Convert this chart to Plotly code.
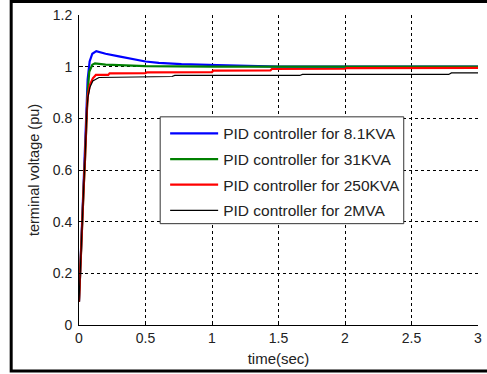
import plotly.graph_objects as go

# ---- data ----
t_blue = [0, 0.007, 0.015, 0.025, 0.035, 0.045, 0.055, 0.065, 0.08, 0.1, 0.13, 0.2, 0.3, 0.41, 0.5, 0.6, 0.77, 1.04, 1.5, 3.0]
v_blue = [0.09, 0.19, 0.3, 0.42, 0.53, 0.7, 0.86, 0.95, 1.02, 1.05, 1.06, 1.05, 1.04, 1.03, 1.02, 1.015, 1.01, 1.006, 1.0, 1.0]

t_green = [0, 0.007, 0.015, 0.025, 0.035, 0.045, 0.055, 0.065, 0.077, 0.1, 0.12, 0.2, 0.5, 1.0, 3.0]
v_green = [0.09, 0.19, 0.3, 0.42, 0.53, 0.64, 0.77, 0.9, 0.98, 1.007, 1.013, 1.008, 1.002, 1.0, 1.0]

t_red = [0, 0.007, 0.015, 0.025, 0.035, 0.045, 0.052, 0.06, 0.067, 0.082, 0.104, 0.127, 0.22, 0.23,
         0.5, 0.51, 1.0, 1.01, 1.44, 1.45, 2.0, 2.01, 3.0]
v_red = [0.09, 0.19, 0.3, 0.42, 0.53, 0.64, 0.75, 0.84, 0.89, 0.93, 0.955, 0.968, 0.968, 0.974,
         0.975, 0.978, 0.979, 0.985, 0.986, 0.991, 0.992, 0.994, 0.995]

t_black = [0, 0.007, 0.015, 0.025, 0.035, 0.045, 0.052, 0.06, 0.067, 0.082, 0.104, 0.15, 0.7, 0.72, 1.66, 1.68, 2.78, 2.8, 3.0]
v_black = [0.09, 0.19, 0.3, 0.42, 0.53, 0.64, 0.75, 0.84, 0.88, 0.92, 0.945, 0.958, 0.962, 0.966, 0.966, 0.970, 0.970, 0.976, 0.976]

names = ["PID controller for 8.1KVA", "PID controller for 31KVA",
         "PID controller for 250KVA", "PID controller for 2MVA"]
x_ticks = [0, 0.5, 1, 1.5, 2, 2.5, 3]
x_tick_text = ["0", "0.5", "1", "1.5", "2", "2.5", "3"]
y_ticks = [0, 0.2, 0.4, 0.6, 0.8, 1, 1.2]
y_tick_text = ["0", "0.2", "0.4", "0.6", "0.8", "1", "1.2"]

FONT = "Liberation Sans, Arial, sans-serif"

fig = go.Figure()
series = [(t_blue, v_blue, "#0000ff", 2.2),
          (t_green, v_green, "#008000", 2.2),
          (t_red, v_red, "#ff0000", 2.2),
          (t_black, v_black, "#000000", 1.2)]
for i, (tx, vy, col, w) in enumerate(series):
    fig.add_trace(go.Scatter(x=tx, y=vy, mode="lines", name=names[i],
                             legendgroup="g%d" % i,
                             line=dict(color=col, width=w)))

W, H = 487, 374
L, R, T, B = 79, 5, 15, 48.5
pw, ph = W - L - R, H - T - B

def px2paper_x(px):
    return (px - L) / pw

def px2paper_y(py):
    return (H - B - py) / ph

shapes = [
    # legend box
    dict(type="rect", xref="paper", yref="paper",
         x0=px2paper_x(161), x1=px2paper_x(407),
         y0=px2paper_y(224), y1=px2paper_y(117),
         line=dict(color="#333333", width=1), fillcolor="white", layer="above"),
    # outer frame
    dict(type="rect", xref="paper", yref="paper",
         x0=px2paper_x(10.5), x1=px2paper_x(510),
         y0=px2paper_y(371.5), y1=px2paper_y(1.5),
         line=dict(color="black", width=3), fillcolor="rgba(0,0,0,0)", layer="above"),
]

grid = dict(showgrid=True, gridcolor="black", gridwidth=1, griddash="3px,3px")

fig.update_layout(
    width=W, height=H,
    margin=dict(l=L, r=R, t=T, b=B),
    paper_bgcolor="white", plot_bgcolor="white",
    font=dict(family=FONT, size=13, color="black"),
    showlegend=True,
    legend=dict(x=px2paper_x(166), y=px2paper_y(117), xanchor="left", yanchor="top",
                bgcolor="rgba(0,0,0,0)", borderwidth=0, itemwidth=48,
                font=dict(family=FONT, size=15.5, color="#222222"),
                traceorder="grouped", tracegroupgap=2.5),
    xaxis=dict(range=[0, 3], tickvals=x_ticks, ticktext=x_tick_text,
               showline=True, linecolor="black", linewidth=1, mirror=False,
               ticks="inside", ticklen=4, tickcolor="black", zeroline=False,
               tickfont=dict(size=14, color="#222222"),
               title=dict(text="time(sec)", font=dict(size=15, color="#222222"), standoff=8),
               **grid),
    yaxis=dict(range=[0, 1.2], tickvals=y_ticks, ticktext=y_tick_text,
               showline=True, linecolor="black", linewidth=1, mirror=False,
               ticks="inside", ticklen=4, tickcolor="black", zeroline=False,
               ticklabelstandoff=3,
               tickfont=dict(size=14, color="#222222"),
               title=dict(text="terminal voltage (pu)", font=dict(size=14.5, color="#222222"), standoff=9),
               **grid),
    shapes=shapes,
)

fig.write_html("out.html")
